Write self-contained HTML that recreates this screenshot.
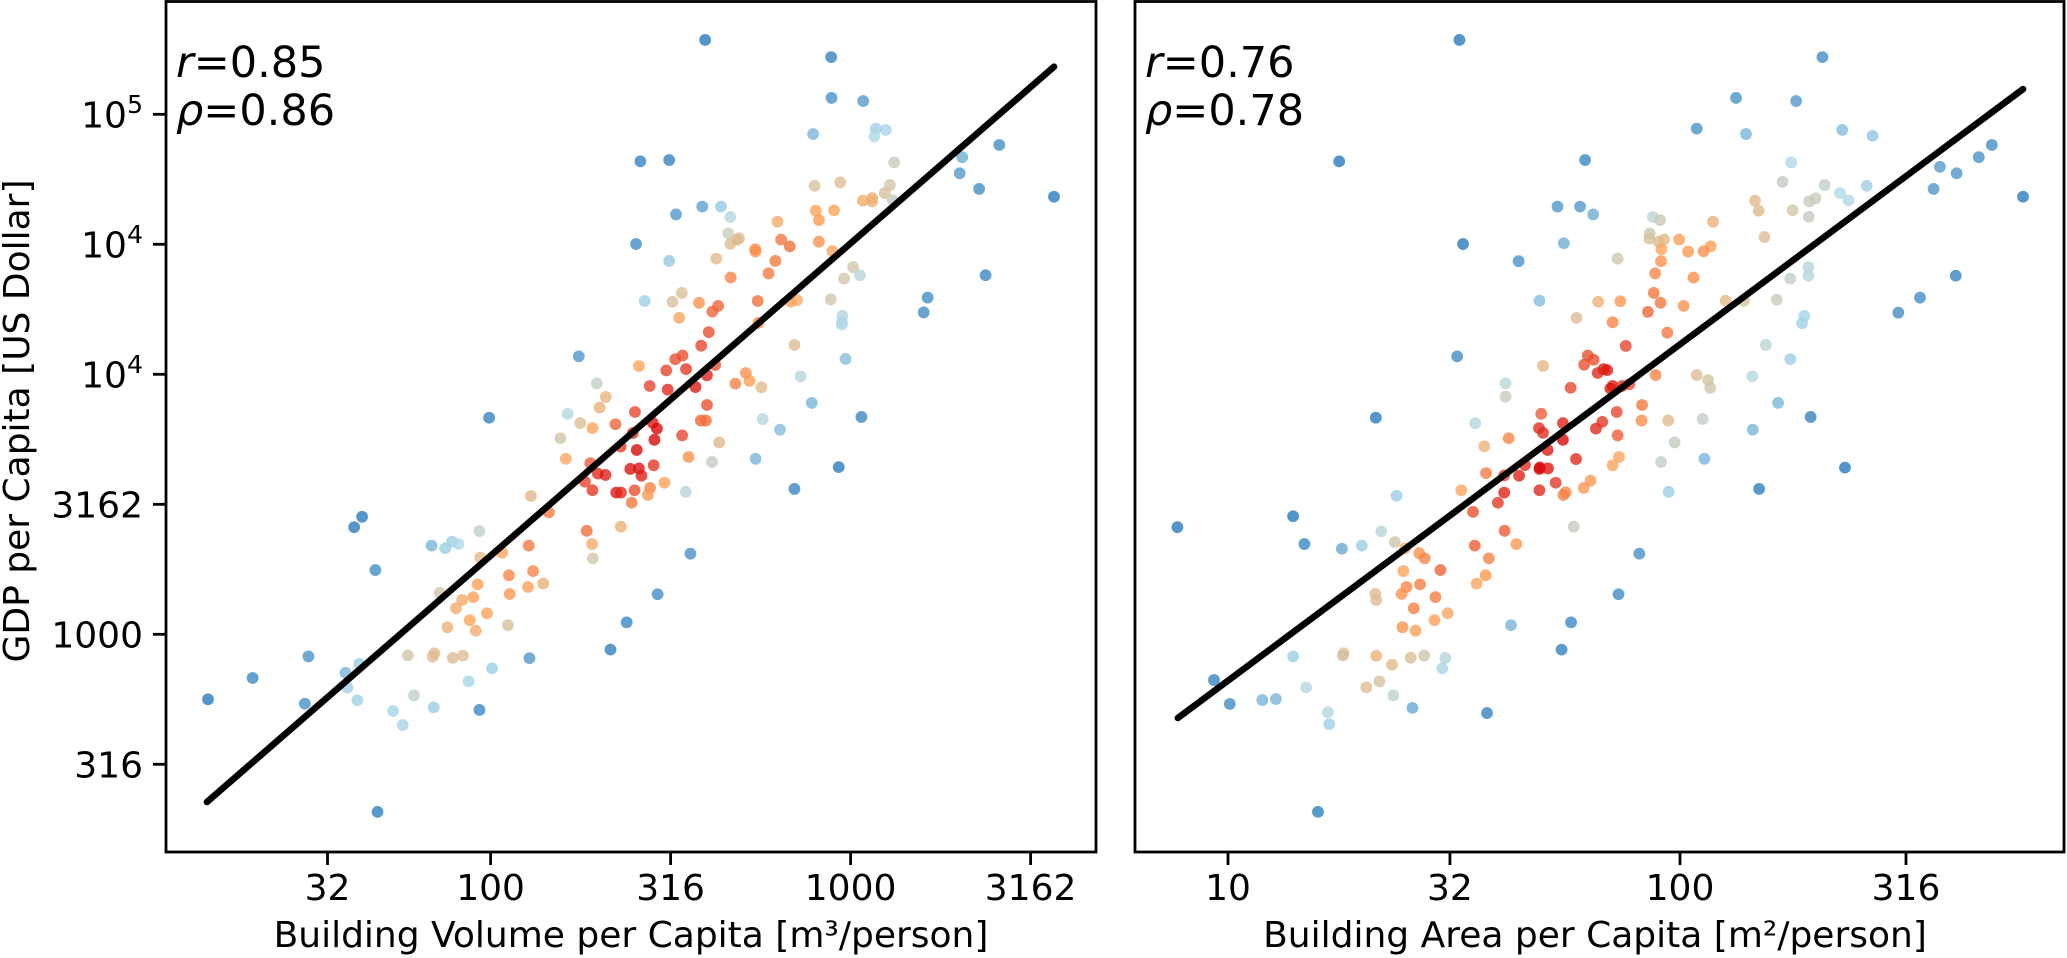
<!DOCTYPE html>
<html lang="en">
<head>
<meta charset="utf-8">
<title>GDP per capita vs building volume and area per capita</title>
<style>
html,body{margin:0;padding:0;background:#fff}
svg{display:block}
text{font-family:"DejaVu Sans","Liberation Sans",sans-serif;fill:#000}
</style>
</head>
<body>
<svg id="chart" xmlns="http://www.w3.org/2000/svg" width="2067" height="958" viewBox="0 0 2067 958">
  <rect x="0" y="0" width="2067" height="958" fill="#fff"/>
  <g id="left-marks"></g>
  <g id="right-marks"></g>
  <g id="axes-layer"></g>
  <text x="176" y="77" font-size="43"><tspan font-style="italic">r</tspan>=0.85</text>
  <text x="176" y="125" font-size="43"><tspan font-style="italic">ρ</tspan>=0.86</text>
  <text x="1145" y="77" font-size="43"><tspan font-style="italic">r</tspan>=0.76</text>
  <text x="1145" y="125" font-size="43"><tspan font-style="italic">ρ</tspan>=0.78</text>
  <text x="631" y="947" font-size="36" text-anchor="middle">Building Volume per Capita [m³/person]</text>
  <text x="1595" y="947" font-size="36" text-anchor="middle">Building Area per Capita [m²/person]</text>
  <text x="0" y="0" font-size="36" text-anchor="middle" transform="translate(29,421) rotate(-90)">GDP per Capita [US Dollar]</text>
</svg>
<script>
// log10 of building volume per capita (left panel)
const leftVolume = [
2.496,2.627,2.736,2.735,2.791,2.772,2.667,3.007,3.026,2.982,3.214,3.203,2.428,2.505,2.531,2.579,2.632,2.616,2.524,2.742,
2.851,2.834,2.945,2.977,2.976,2.976,2.606,2.585,2.744,2.844,2.986,2.533,2.513,2.488,2.543,2.412,2.624,2.601,2.861,2.709,
2.719,2.68,2.752,2.442,2.492,2.569,2.295,2.32,2.303,2.245,2.214,2.249,2.283,2.194,2.209,2.347,2.401,2.601,2.584,2.598,
2.45,2.462,2.395,2.455,2.532,2.635,2.756,2.804,2.892,3.03,2.736,2.615,2.55,2.361,2.406,2.277,2.298,2.319,2.388,2.412,
2.419,2.453,2.262,2.283,2.349,2.362,2.4,2.443,2.437,2.483,2.542,2.392,2.844,2.967,2.112,2.162,2.267,2.362,2.282,2.284,
2.555,1.969,1.836,1.874,1.893,1.911,2.106,2.032,1.971,2.051,2.118,2.146,1.964,2.104,2.053,1.859,1.952,1.921,1.904,1.99,
2.464,1.942,1.88,1.959,2.048,2.378,2.333,1.77,1.844,1.839,1.895,1.923,2.108,2.004,1.939,1.787,1.842,1.729,1.969,1.643,
1.621,1.68,1.996,2.596,2.946,2.947,2.896,2.416,2.496,2.588,2.64,2.666,2.515,2.66,2.69,2.684,2.666,2.404,2.797,2.807,
2.831,2.912,2.949,2.9,2.971,2.903,2.954,2.912,3.035,3.07,3.098,3.066,3.121,3.109,3.095,3.117,3.06,3.06,3.034,3.31,
3.303,3.413,3.357,3.565,3.375,1.494,1.339,1.215,1.484,1.597,1.635,1.602,1.63,1.756,1.686];
// log10 of GDP per capita (left panel)
const leftGdp = [
4.436,4.445,4.472,4.481,4.436,4.388,4.372,4.412,4.381,4.368,4.295,4.238,4.282,4.279,4.313,4.275,4.263,4.241,4.217,4.282,
4.285,4.279,4.288,4.225,4.2,4.191,4.162,4.11,4.198,4.113,4.059,4.072,4.058,4.015,4.02,4.032,4.036,3.996,3.992,4.005,
3.975,3.964,3.95,3.955,3.941,3.951,3.965,3.913,3.872,4.069,3.848,3.812,3.793,3.754,3.675,3.808,3.855,3.882,3.822,3.822,
3.814,3.791,3.774,3.748,3.765,3.738,3.828,3.787,3.89,3.836,3.675,3.663,3.682,3.722,3.709,3.658,3.618,3.613,3.636,3.638,
3.61,3.65,3.587,3.554,3.545,3.545,3.554,3.563,3.536,3.583,3.548,3.506,3.559,3.643,3.532,3.469,3.398,3.414,3.347,3.292,
3.31,3.397,3.341,3.331,3.356,3.347,3.341,3.314,3.295,3.227,3.243,3.195,3.192,3.182,3.155,3.159,3.143,3.132,3.1,3.081,
3.154,3.054,3.027,3.014,3.035,3.046,2.941,2.919,2.927,2.914,2.909,2.918,2.908,2.869,2.819,2.765,2.719,2.705,2.709,3.452,
3.412,3.247,3.833,5.286,5.22,5.063,4.924,4.819,4.824,4.645,4.645,4.605,4.615,4.542,4.523,4.517,4.502,4.501,4.587,4.518,
4.492,4.51,4.474,4.725,4.738,4.629,4.631,4.593,5.051,4.945,4.94,4.915,4.815,4.728,4.697,4.67,4.678,4.665,4.668,4.835,
4.773,4.882,4.713,4.683,4.381,2.915,2.832,2.75,2.733,2.852,2.886,2.795,2.746,2.651,2.317];
// local point density, 0 (sparse) to 1 (dense), left panel
const leftDensity = [
.25,.55,.66,.7,.75,.75,.72,.47,.36,.47,.08,.08,.28,.5,.52,.68,.8,.8,.63,.78,
.6,.62,.47,.35,.33,.33,.85,.87,.7,.53,.22,.85,.85,.87,.9,.63,.85,.95,.36,.68,
.65,.73,.55,.87,.93,.97,.4,.57,.58,.12,.35,.53,.63,.47,.62,.8,.87,.85,.8,.78,
.97,1,.92,1,.87,.55,.35,.22,.2,.05,.2,.42,.68,.9,1,.82,.93,.95,.98,.98,
.95,.9,.88,.9,.97,.93,.85,.72,.66,.63,.36,.75,.05,0,.55,.75,.78,.58,.6,.47,
.1,.4,.2,.27,.28,.33,.75,.63,.55,.72,.72,.58,.64,.64,.66,.47,.64,.6,.6,.64,
.08,.63,.58,.6,.5,.05,.02,.47,.55,.53,.53,.52,.12,.27,.3,.4,.27,.3,.05,0,
0,.08,.03,0,.03,.1,.2,.03,.03,.15,.25,.35,.12,.43,.55,.53,.53,.08,.6,.76,
.78,.68,.62,.5,.52,.63,.63,.66,.13,.28,.3,.33,.43,.47,.5,.42,.58,.58,.6,.18,
.13,.08,.08,0,.05,.1,.05,0,.1,.2,.27,.28,.28,.3,.02];

// log10 of building area per capita (right panel)
const rightArea = [
1.512,1.246,1.729,1.52,1.643,1.743,1.689,.888,1.327,1.373,2.315,2.124,2.257,2.037,2.146,2.359,2.426,1.79,2.246,2.227,
2.32,2.413,2.354,2.373,2.3,2.286,2.166,2.174,2.249,2.285,2.073,1.779,1.808,1.94,1.956,1.933,1.932,1.953,1.965,1.998,
2.187,2.068,2.052,2.018,1.959,1.862,1.958,1.945,2.03,2.284,2.284,2.244,1.819,1.868,1.942,1.957,1.929,2.008,2.101,2.141,
2.214,2.275,2.27,1.771,1.851,1.972,1.88,2.19,2.244,1.507,1.697,1.796,1.809,1.788,1.831,1.839,1.818,1.946,2.037,2.062,
2.067,2.16,1.614,1.614,1.758,2.483,2.531,2.61,2.561,2.575,2.612,2.661,2.69,2.759,1.86,1.693,1.916,2.217,1.741,1.974,
1.915,1.828,1.814,2.05,2.161,1.547,1.688,1.697,1.621,1.567,1.862,1.988,1.741,1.707,1.77,1.865,1.851,1.958,2.054,2.175,
1.571,1.516,1.657,1.69,1.689,1.708,1.611,1.644,1.725,1.802,1.787,1.747,1.742,1.611,1.689,1.597,1.975,1.542,1.144,1.339,
1.612,1.765,1.169,1.252,1.296,1.369,1.392,1.546,1.638,1.91,1.423,1.435,1.577,1.47,1.388,1.57,1.55,1.425,1.395,1.384,
1.326,1.328,1.459,1.864,1.411,1.486,1.457,1.626,1.759,1.386,1.415,1.738,1.144,1.256,1.254,1.328,1.404,1.434,1.363,1.481,
1.474,1.306,1.335,1.173,1.366,1.076,1.106,1.408,1.221,1.573,1.224,1.851,1.846,1.872,1.888,1.199,.969,1.004,2.289,2.365];
// log10 of GDP per capita (right panel)
const rightGdp = [
5.286,4.819,4.645,4.501,4.435,4.504,4.283,3.412,3.833,3.533,5.22,5.063,5.051,4.945,4.924,4.94,4.917,4.824,4.815,4.74,
4.728,4.725,4.697,4.669,4.677,4.665,4.668,4.629,4.631,4.606,4.587,4.645,4.615,4.605,4.593,4.542,4.522,4.51,4.519,4.518,
4.528,4.492,4.473,4.472,4.481,4.445,4.435,4.388,4.372,4.412,4.379,4.368,4.279,4.281,4.313,4.275,4.24,4.263,4.283,4.282,
4.287,4.225,4.196,4.217,4.2,4.16,4.109,4.113,4.058,4.069,4.032,4.072,4.056,4.037,4.02,4.016,4.005,3.997,3.997,3.978,
3.948,3.992,3.965,3.914,3.948,4.237,4.295,4.379,4.713,4.798,4.773,4.835,4.882,4.683,3.855,3.848,3.882,3.89,3.812,3.822,
3.822,3.817,3.791,3.828,3.787,3.812,3.793,3.775,3.754,3.723,3.765,3.738,3.748,3.709,3.674,3.682,3.65,3.663,3.675,3.559,
3.62,3.554,3.651,3.642,3.636,3.638,3.611,3.61,3.583,3.591,3.563,3.546,3.536,3.545,3.554,3.506,3.548,3.471,3.454,3.396,
3.398,3.414,3.347,3.329,3.341,3.355,3.331,3.341,3.347,3.31,3.312,3.292,3.292,3.247,3.243,3.227,3.195,3.192,3.182,3.155,
3.156,3.132,3.143,3.154,3.1,3.081,3.054,3.035,3.046,3.027,3.014,2.941,2.915,2.927,2.918,2.917,2.91,2.918,2.883,2.909,
2.869,2.796,2.819,2.796,2.765,2.747,2.751,2.717,2.7,2.697,2.654,3.955,3.945,3.955,3.962,2.317,2.824,2.732,3.836,3.641];
// local point density, 0 (sparse) to 1 (dense), right panel
const rightDensity = [
0,0,.12,0,.1,.18,.22,0,0,.27,.08,.1,.13,.1,.2,.22,.24,.05,.33,.42,
.4,.28,.33,.33,.43,.43,.55,.55,.48,.42,.58,.13,.18,.37,.45,.46,.5,.55,.55,.64,
.52,.64,.68,.66,.63,.45,.68,.72,.7,.35,.35,.4,.58,.66,.76,.76,.8,.68,.55,.5,
.42,.3,.28,.52,.72,.76,.87,.37,.27,.08,.56,.85,.85,.85,.97,.97,.93,.72,.53,.48,
.47,.35,.37,.42,.87,.08,.08,.04,.12,.14,.12,.1,.08,0,.87,.82,.75,.2,.95,.55,
.7,.9,.93,.4,.2,.35,.92,.92,.72,.58,.82,.42,1,.97,.93,.62,.62,.4,.2,.02,
.75,.63,.93,1,1,.97,.88,.95,.9,.66,.66,.72,.72,.95,.93,.9,.27,.85,0,.36,
.82,.42,.05,.17,.27,.47,.6,.82,.66,.1,.68,.72,.73,.8,.63,.66,.62,.74,.72,.68,
.53,.53,.74,.07,.74,.62,.64,.2,.06,.68,.64,.04,.27,.5,.5,.58,.52,.47,.55,.36,
.3,.53,.5,.35,.38,.2,.2,.17,.35,.03,.28,.97,.97,.9,.87,.02,.03,.07,.03,0];

// regression line end points (log10 units)
const leftFitX = [1.212, 3.565];
const leftFitY = [2.355, 5.183];
const rightFitX = [0.889, 2.759];
const rightFitY = [2.678, 5.097];

// tick values (log10 units) and their printed labels
const yTicks = [5, 4.5, 4, 3.5, 3, 2.5];
const yTickLabels = ["10^5", "10^4", "10^4", "3162", "1000", "316"];
const leftXTicks = [1.547, 2, 2.5, 3, 3.5];
const leftXTickLabels = ["32", "100", "316", "1000", "3162"];
const rightXTicks = [1, 1.491, 2, 2.5];
const rightXTickLabels = ["10", "32", "100", "316"];

const NS = "http://www.w3.org/2000/svg";
const yScale = function (v) { return 114.3 + (5 - v) * 260; };
const leftX = function (v) { return 850.6 + (v - 3) * 360; };
const rightX = function (v) { return 1680 + (v - 2) * 452; };

const rampStops = [0, .15, .25, .33, .4, .47, .55, .63, .75, .87, 1];
const rampColors = [
  [36,121,186],[89,156,206],[146,201,226],[174,217,230],[192,206,199],[206,196,168],
  [226,184,136],[254,161,86],[244,121,61],[230,68,42],[217,5,5]
];
function densityColor(d) {
  let i = 0;
  while (i < rampStops.length - 2 && d > rampStops[i + 1]) i++;
  const t = (d - rampStops[i]) / (rampStops[i + 1] - rampStops[i]);
  const a = rampColors[i], b = rampColors[i + 1];
  return "rgb(" + [0, 1, 2].map(function (k) { return Math.round(a[k] + (b[k] - a[k]) * t); }).join(",") + ")";
}

function drawPoints(groupId, xs, ys, ds, xScale, pointName) {
  const g = document.getElementById(groupId);
  for (let i = 0; i < xs.length; i++) {
    const c = document.createElementNS(NS, "circle");
    c.setAttribute("cx", xScale(xs[i]));
    c.setAttribute("cy", yScale(ys[i]));
    c.setAttribute("r", 5.9);
    c.setAttribute("fill", densityColor(ds[i]));
    c.setAttribute("fill-opacity", 0.78);
    
    
    g.appendChild(c);
  }
}
drawPoints("left-marks", leftVolume, leftGdp, leftDensity, leftX, "volume-point");
drawPoints("right-marks", rightArea, rightGdp, rightDensity, rightX, "area-point");

const axes = document.getElementById("axes-layer");

function drawFit(xs, ys, xScale, lineName) {
  const l = document.createElementNS(NS, "line");
  l.setAttribute("x1", xScale(xs[0]));
  l.setAttribute("y1", yScale(ys[0]));
  l.setAttribute("x2", xScale(xs[1]));
  l.setAttribute("y2", yScale(ys[1]));
  l.setAttribute("stroke", "#000");
  l.setAttribute("stroke-width", 6.6);
  l.setAttribute("stroke-linecap", "round");
  
  
  axes.appendChild(l);
}
drawFit(leftFitX, leftFitY, leftX, "volume-regression-line");
drawFit(rightFitX, rightFitY, rightX, "area-regression-line");

function drawFrame(x0, x1, frameName) {
  const r = document.createElementNS(NS, "rect");
  r.setAttribute("x", x0);
  r.setAttribute("y", 1.5);
  r.setAttribute("width", x1 - x0);
  r.setAttribute("height", 850.5);
  r.setAttribute("fill", "none");
  r.setAttribute("stroke", "#000");
  r.setAttribute("stroke-width", 2.8);
  
  
  axes.appendChild(r);
}
drawFrame(166, 1096, "volume-axes-frame");
drawFrame(1135, 2064, "area-axes-frame");

function tickLine(x1, y1, x2, y2, tickName) {
  const l = document.createElementNS(NS, "line");
  l.setAttribute("x1", x1);
  l.setAttribute("y1", y1);
  l.setAttribute("x2", x2);
  l.setAttribute("y2", y2);
  l.setAttribute("stroke", "#000");
  l.setAttribute("stroke-width", 2.8);
  
  
  axes.appendChild(l);
}

yTicks.forEach(function (v, i) {
  const y = yScale(v);
  tickLine(153, y, 166, y, "y-axis-tick");
  const t = document.createElementNS(NS, "text");
  t.setAttribute("x", 143);
  t.setAttribute("y", y + 13);
  t.setAttribute("font-size", 36);
  t.setAttribute("text-anchor", "end");
  
  
  const parts = yTickLabels[i].split("^");
  t.textContent = parts[0];
  if (parts.length > 1) {
    const s = document.createElementNS(NS, "tspan");
    s.setAttribute("font-size", 25.2);
    s.setAttribute("dy", -14.5);
    s.textContent = parts[1];
    t.appendChild(s);
  }
  axes.appendChild(t);
});

function drawXTicks(ticks, labels, xScale) {
  ticks.forEach(function (v, i) {
    const x = xScale(v);
    tickLine(x, 852, x, 865, "x-axis-tick");
    const t = document.createElementNS(NS, "text");
    t.setAttribute("x", x);
    t.setAttribute("y", 900);
    t.setAttribute("font-size", 36);
    t.setAttribute("text-anchor", "middle");
    
    
    t.textContent = labels[i];
    axes.appendChild(t);
  });
}
drawXTicks(leftXTicks, leftXTickLabels, leftX);
drawXTicks(rightXTicks, rightXTickLabels, rightX);
</script>
</body>
</html>
